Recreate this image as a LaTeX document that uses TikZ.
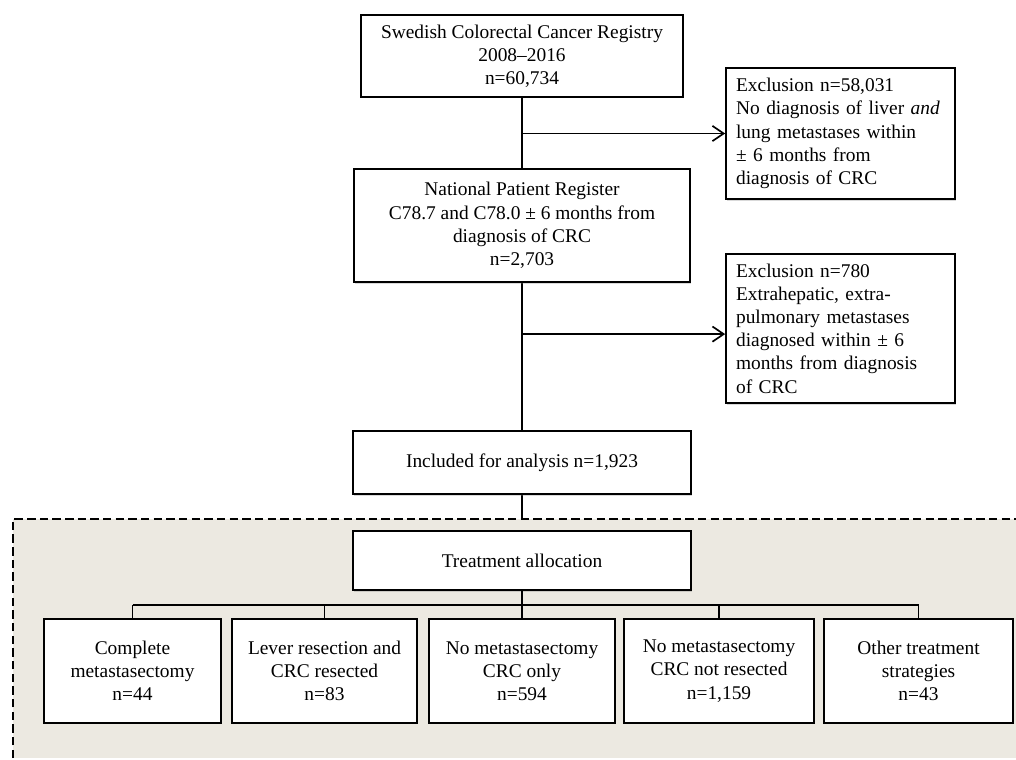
\documentclass[tikz,border=0pt]{standalone}
\usepackage{fontspec}
\setmainfont{Liberation Serif}
\usepackage{xcolor}
\usetikzlibrary{positioning,arrows.meta,shadows,backgrounds}
\definecolor{panelbg}{RGB}{236,233,225}
\tikzset{
    box/.style={
        rectangle,
        draw,
        fill=white,
        line width=1.3pt,
        align=center,
        inner sep=0pt,
        font=\fontsize{13.8}{16.5}\selectfont,
        drop shadow={shadow xshift=0.7pt, shadow yshift=-1pt, opacity=0.3}
    },
    exclbox/.style={
        box,
        align=left,
        text width=5.22cm,
        inner xsep=0.25cm
    },
    link/.style={line width=1.2pt},
    arrow/.style={link, -{Straight Barb[length=2.8mm, width=3.8mm, line width=1.2pt]}}
}

\begin{document}
\begin{tikzpicture}[x=0.025cm, y=-0.025cm]
    \useasboundingbox (0,0) rectangle (1016,760);

    % shaded treatment panel
    \fill[panelbg] (13,519) rectangle (1016,758);
    \draw[line width=1pt, dash pattern=on 6pt off 3pt] (13,758) -- (13,519) -- (1016,519);

    % flow of patients
    \node[box, minimum width=8.03cm, minimum height=2.05cm] (scrcr) at (522,56)
        {Swedish Colorectal Cancer Registry\\2008–2016\\n=60,734};
    \node[exclbox, minimum height=3.28cm] (excl1) at (840.5,133.5)
        {Exclusion n=58,031\\No diagnosis of liver \emph{and}\\lung metastases within\\± 6 months from\\diagnosis of CRC};
    \node[box, minimum width=8.4cm, minimum height=2.83cm] (npr) at (522,225.5)
        {National Patient Register\\C78.7 and C78.0 ± 6 months from\\diagnosis of CRC\\n=2,703};
    \node[exclbox, minimum height=3.73cm] (excl2) at (840.5,328.5)
        {Exclusion n=780\\Extrahepatic, extra-\\pulmonary metastases\\diagnosed within ± 6\\months from diagnosis\\of CRC};
    \node[box, minimum width=8.43cm, minimum height=1.58cm] (incl) at (522,462.5)
        {Included for analysis n=1,923};
    \node[box, minimum width=8.43cm, minimum height=1.48cm] (treat) at (522,560.5)
        {Treatment allocation};

    % treatment groups
    \node[box, minimum width=4.43cm, minimum height=2.6cm] (grpA) at (132.5,671)
        {Complete\\metastasectomy\\n=44};
    \node[box, minimum width=4.63cm, minimum height=2.6cm] (grpB) at (324.5,671)
        {Lever resection and\\CRC resected\\n=83};
    \node[box, minimum width=4.65cm, minimum height=2.6cm] (grpC) at (522,671)
        {No metastasectomy\\CRC only\\n=594};
    \node[box, minimum width=4.75cm, minimum height=2.6cm] (grpD) at (719,671)
        {No metastasectomy\\CRC not resected\\n=1,159};
    \node[box, minimum width=4.73cm, minimum height=2.6cm] (grpE) at (918.5,671)
        {Other treatment\\strategies\\n=43};

    \coordinate (bus) at (0,605);
    \coordinate (ex2in) at ([yshift=-0.14cm]excl2.west);

    \begin{scope}[on background layer]
        \draw[link] (scrcr.south) -- (npr.north);
        \draw[link] (npr.south) -- (incl.north);
        \draw[link] (incl.south) -- (treat.north);
    \end{scope}
    \draw[arrow] (scrcr.south |- excl1.west) -- (excl1.west);
    \draw[arrow] (npr.south |- ex2in) -- (ex2in);

    \draw[link] (treat.south) -- (treat.south |- bus);
    \draw[link] (grpA.north |- bus) -- (grpE.north |- bus);
    \foreach \g in {grpA,grpB,grpC,grpD,grpE}
        \draw[link] (\g.north |- bus) -- (\g.north);
\end{tikzpicture}
\end{document}
